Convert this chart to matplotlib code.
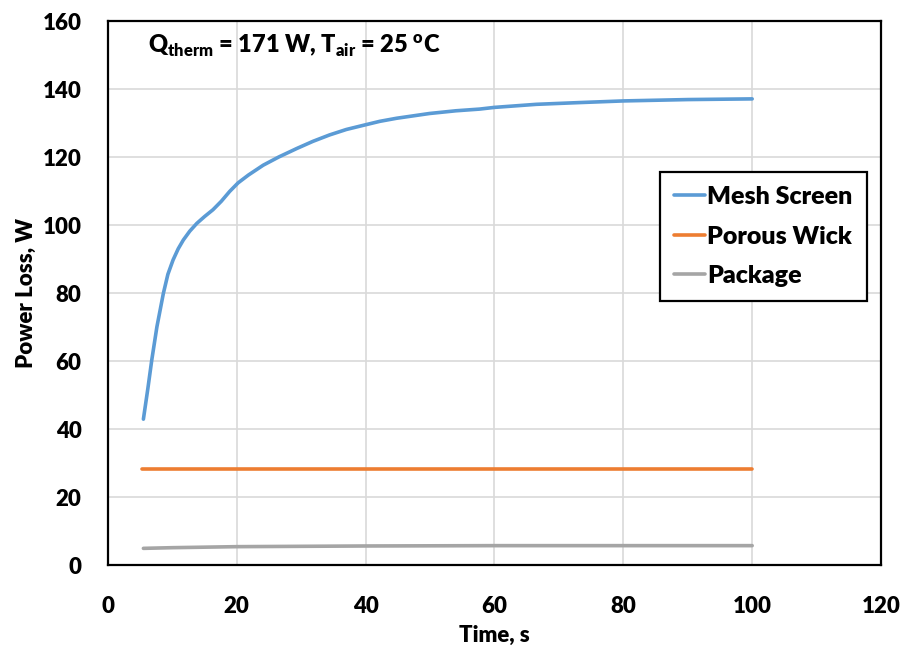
import matplotlib
matplotlib.use("Agg")
import matplotlib.pyplot as plt

plt.rcParams['font.family'] = ['Lato', 'DejaVu Sans']
plt.rcParams['font.weight'] = 'heavy'
plt.rcParams['axes.labelweight'] = 'heavy'
plt.rcParams['mathtext.fontset'] = 'custom'
plt.rcParams['mathtext.rm'] = 'Lato:heavy'
plt.rcParams['mathtext.it'] = 'Lato:heavy'
plt.rcParams['mathtext.bf'] = 'Lato:heavy'

# values
time_mesh = [5.5, 6.2, 6.8, 7.6, 8.6, 9.3, 10.1, 10.9, 11.7, 12.7, 13.8, 15.0, 16.3, 17.6,
             18.9, 20.2, 21.8, 24.1, 26.5, 29.3, 31.8, 34.4, 37.0, 39.8, 42.2, 44.8,
             49.9, 54.0, 57.7, 60, 66.5, 73.0, 80, 90, 100]
mesh_screen = [42.9, 52.0, 60.3, 70.1, 79.9, 85.5, 89.7, 93.0, 95.6, 98.2, 100.5, 102.5,
               104.5, 107.0, 109.9, 112.4, 114.7, 117.6, 120.0, 122.5, 124.6, 126.5,
               128.1, 129.4, 130.5, 131.4, 132.8, 133.6, 134.1, 134.6, 135.5, 136.0,
               136.5, 136.9, 137.1]

time_wick = [5.3, 100]
porous_wick = [28.1, 28.1]

time_pkg = [5.5, 10, 20, 40, 60, 80, 100]
package = [4.9, 5.1, 5.4, 5.6, 5.7, 5.7, 5.7]

series_names = ["Mesh Screen", "Porous Wick", "Package"]
series_colors = ["#5B9BD5", "#ED7D31", "#A5A5A5"]

x_ticks = [0, 20, 40, 60, 80, 100, 120]
y_ticks = [0, 20, 40, 60, 80, 100, 120, 140, 160]

fig = plt.figure(figsize=(9.05, 6.49), dpi=100)
ax = fig.add_axes([0.1193, 0.1294, 0.8542, 0.8382])

ax.plot(time_mesh, mesh_screen, color=series_colors[0], lw=2.6,
        label=series_names[0], solid_capstyle='round', solid_joinstyle='round')
ax.plot(time_wick, porous_wick, color=series_colors[1], lw=2.6,
        label=series_names[1], solid_capstyle='round')
ax.plot(time_pkg, package, color=series_colors[2], lw=2.6,
        label=series_names[2], solid_capstyle='round')

ax.set_xlim(0, 120)
ax.set_ylim(0, 160)
ax.set_xticks(x_ticks)
ax.set_yticks(y_ticks)
ax.tick_params(length=0, labelsize=16)
ax.tick_params(axis='y', pad=19)
ax.tick_params(axis='x', pad=22)
ax.grid(True, color='#d9d9d9', lw=1.2)
ax.set_axisbelow(True)
for sp in ax.spines.values():
    sp.set_linewidth(1.6)
    sp.set_color('black')

ax.set_xlabel("Time, s", fontsize=16, fontweight='heavy', labelpad=6)
ax.set_ylabel("Power Loss, W", fontsize=16, fontweight='heavy', labelpad=4)

ax.text(0.052, 0.956, r"Q$_{\mathrm{therm}}$ = 171 W, T$_{\mathrm{air}}$ = 25 $^{\mathrm{o}}$C",
        transform=ax.transAxes, fontsize=17, va='center', ha='left')

leg = ax.legend(loc='upper left', bbox_to_anchor=(0.714, 0.722), fontsize=18,
                fancybox=False, edgecolor='black', framealpha=1,
                handlelength=1.25, handletextpad=0.1, labelspacing=0.7,
                borderpad=0.55, borderaxespad=0)
leg.get_frame().set_linewidth(1.6)

fig.savefig("out.png", dpi=100)
